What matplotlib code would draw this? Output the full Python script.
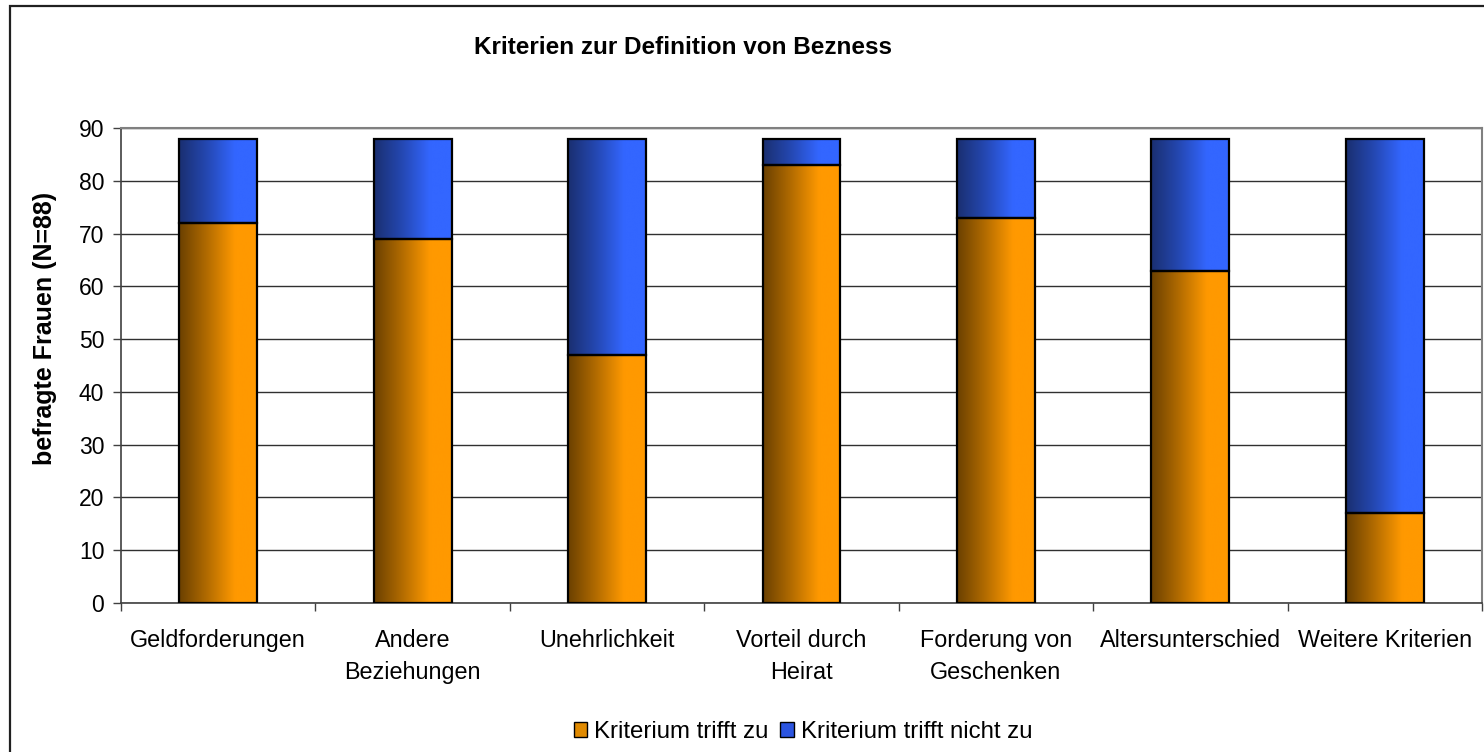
"""Kriterien zur Definition von Bezness - stacked bars with Excel-like gradient."""
import matplotlib
matplotlib.use("Agg")
import matplotlib.pyplot as plt
import numpy as np
from matplotlib.colors import LinearSegmentedColormap
from matplotlib.patches import Patch, Rectangle

plt.rcParams["font.family"] = ["Liberation Sans", "DejaVu Sans"]

# Data
categories = [
    "Geldforderungen",
    "Andere\nBeziehungen",
    "Unehrlichkeit",
    "Vorteil durch\nHeirat",
    "Forderung von\nGeschenken",
    "Altersunterschied",
    "Weitere Kriterien",
]
trifft_zu = [72, 69, 47, 83, 73, 63, 17]
trifft_nicht_zu = [16, 19, 41, 5, 15, 25, 71]
series_labels = ["Kriterium trifft zu", "Kriterium trifft nicht zu"]
yticks = list(range(0, 91, 10))

# gradient maps: dark on the left, bright from ~70% of the width
cmap_orange = LinearSegmentedColormap.from_list(
    "or", [(0, "#6a4000"), (0.35, "#b06a00"), (0.72, "#ff9900"), (1, "#ff9900")])
cmap_blue = LinearSegmentedColormap.from_list(
    "bl", [(0, "#1a2f70"), (0.35, "#2447b0"), (0.72, "#3366ff"), (1, "#3366ff")])

W, H = 1484, 752
fig = plt.figure(figsize=(W / 100, H / 100), dpi=100)
ax = fig.add_axes([121 / W, 1 - 603 / H, (1482 - 121) / W, (603 - 128) / H])

x = np.arange(len(categories))
width = 0.4
grad = np.linspace(0, 1, 256).reshape(1, -1)


def gradient_bars(bars, cmap):
    for b in bars:
        b.set_facecolor("none")
        im = ax.imshow(grad, cmap=cmap, aspect="auto", interpolation="bicubic",
                       extent=[b.get_x(), b.get_x() + b.get_width(),
                               b.get_y(), b.get_y() + b.get_height()],
                       zorder=2)
        im.set_clip_path(b)


bars1 = ax.bar(x, trifft_zu, width, edgecolor="black", linewidth=1.6, zorder=3)
bars2 = ax.bar(x, trifft_nicht_zu, width, bottom=trifft_zu,
               edgecolor="black", linewidth=1.6, zorder=3)
gradient_bars(bars1, cmap_orange)
gradient_bars(bars2, cmap_blue)

ax.set_xlim(-0.5, len(categories) - 0.5)
ax.set_ylim(0, 90)
ax.set_yticks(yticks)
ax.tick_params(axis="y", labelsize=16.5, length=6, width=1, color="#404040", pad=6)
ax.yaxis.grid(True, color="#303030", linewidth=1)
ax.set_axisbelow(True)

ax.set_xticks(x)
ax.set_xticklabels(categories, fontsize=16.8, linespacing=1.5)
ax.tick_params(axis="x", which="major", length=0, pad=19)
ax.set_xticks(np.arange(-0.5, len(categories), 1), minor=True)
ax.tick_params(axis="x", which="minor", length=6, width=1, color="#404040")

for s in ["left", "bottom"]:
    ax.spines[s].set_color("#404040")
    ax.spines[s].set_linewidth(1.2)
for s in ["top", "right"]:
    ax.spines[s].set_color("#808080")
    ax.spines[s].set_linewidth(1.5)

fig.text(683 / W, 1 - 47 / H, "Kriterien zur Definition von Bezness",
         ha="center", va="center", fontsize=17.5, fontweight="bold")
fig.text(45 / W, 1 - 328 / H, "befragte Frauen (N=88)", rotation=90,
         ha="center", va="center", fontsize=18, fontweight="bold")

# outer chart frame (right and bottom edges fall outside the picture)
fig.add_artist(Rectangle((10 / W, -0.1), 1.2, 1.1 - 6 / H, transform=fig.transFigure,
                         facecolor="none", edgecolor="#202020", linewidth=1.6,
                         clip_on=False))

handles = [Patch(facecolor="#e08a00", edgecolor="black", label=series_labels[0]),
           Patch(facecolor="#2c55e0", edgecolor="black", label=series_labels[1])]
fig.legend(handles=handles, loc="center", bbox_to_anchor=(803 / W, 1 - 732 / H),
           ncol=2, frameon=False, fontsize=17.3, handlelength=0.55, handleheight=0.55,
           handletextpad=0.3, columnspacing=0.5)

plt.savefig("out.png", dpi=100)
